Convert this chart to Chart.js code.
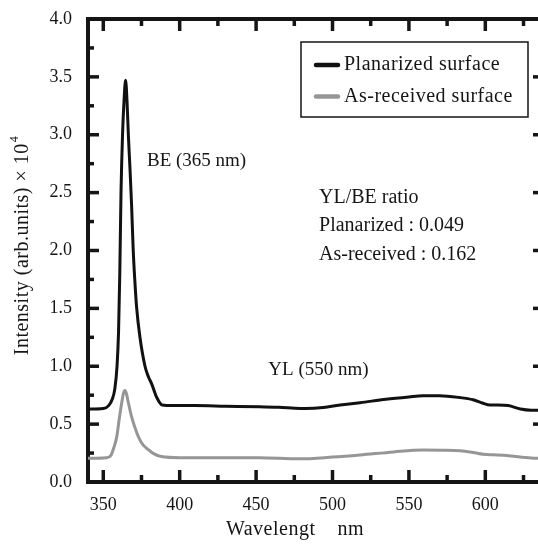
<!DOCTYPE html>
<html>
<head>
<meta charset="utf-8">
<script src="https://cdn.jsdelivr.net/npm/chart.js@4.4.1/dist/chart.umd.min.js"></script>
<style>
  html, body { margin: 0; padding: 0; background: #fff; overflow: hidden; }
  #wrap { position: absolute; left: 0; top: 0; width: 546px; height: 545px; }
</style>
</head>
<body>
<div id="wrap"><canvas id="pl-chart" width="546" height="545"></canvas></div>
<script>
// du lieu doc tu hinh
const planarX = [340, 350, 353.5, 356, 357.5, 359, 360, 360.8, 361.6, 362.6, 363.6, 364.6, 365.5, 366.4, 367.5, 368.5, 369.6, 370.6, 371.8, 374, 377.3, 379.5, 381.6, 385, 388.6, 395, 410, 430, 452, 465, 479, 490, 505, 518, 535, 550, 559, 570, 583, 592, 598.5, 603, 608, 615, 623, 630, 638];
const planarY = [0.63, 0.635, 0.66, 0.72, 0.8, 1.0, 1.3, 1.8, 2.5, 3.0, 3.3, 3.47, 3.3, 3.0, 2.7, 2.4, 2.0, 1.75, 1.51, 1.25, 1.0, 0.91, 0.85, 0.73, 0.665, 0.66, 0.66, 0.655, 0.65, 0.645, 0.636, 0.64, 0.665, 0.685, 0.715, 0.735, 0.745, 0.745, 0.73, 0.71, 0.68, 0.665, 0.665, 0.66, 0.63, 0.62, 0.62];

const asRecX = [340, 352, 355, 357, 358.8, 360.5, 362, 363.3, 364.2, 365.2, 366.5, 368.6, 371, 373, 376, 379.5, 383, 388, 400, 452, 478, 500, 518, 540, 559, 572, 583.5, 592, 598.5, 605, 612, 620, 630, 638];
const asRecY = [0.205, 0.21, 0.23, 0.3, 0.39, 0.55, 0.68, 0.77, 0.79, 0.76, 0.68, 0.56, 0.46, 0.39, 0.32, 0.28, 0.245, 0.22, 0.21, 0.21, 0.2, 0.215, 0.233, 0.26, 0.276, 0.275, 0.27, 0.255, 0.24, 0.235, 0.232, 0.22, 0.208, 0.205];

const xMajor = [350, 400, 450, 500, 550, 600];
const xMinor = [375, 425, 475, 525, 575, 625];
const yMajor = [0, 0.5, 1.0, 1.5, 2.0, 2.5, 3.0, 3.5, 4.0];
const yMinor = [0.25, 0.75, 1.25, 1.75, 2.25, 2.75, 3.25, 3.75];

const seriesLabels = ['Planarized surface', 'As-received surface'];
const ratioLines = ['YL/BE ratio', 'Planarized : 0.049', 'As-received : 0.162'];

const SERIF = "'Liberation Serif', 'DejaVu Serif', serif";
const INK = '#151515';

// ve khung, vach chia huong vao trong, chu thich va chu
const decorPlugin = {
    id: 'decor',
    afterDraw(chart) {
        const ctx = chart.ctx;
        const a = chart.chartArea;
        const xs = chart.scales.x;
        const ys = chart.scales.y;
        ctx.save();
        ctx.strokeStyle = INK;
        ctx.lineCap = 'butt';

        // khung tren va phai
        ctx.lineWidth = 4;
        ctx.beginPath();
        ctx.moveTo(a.left - 2, a.top);
        ctx.lineTo(a.right, a.top);
        ctx.lineTo(a.right, a.bottom);
        ctx.stroke();

        // vach chia
        ctx.lineWidth = 3.5;
        const tick = (x1, y1, x2, y2) => { ctx.beginPath(); ctx.moveTo(x1, y1); ctx.lineTo(x2, y2); ctx.stroke(); };
        xMajor.forEach(v => {
            const px = xs.getPixelForValue(v);
            tick(px, a.bottom, px, a.bottom - 12);
            tick(px, a.top, px, a.top + 12);
        });
        xMinor.forEach(v => {
            const px = xs.getPixelForValue(v);
            tick(px, a.bottom, px, a.bottom - 7);
            tick(px, a.top, px, a.top + 7);
        });
        yMajor.forEach(v => {
            const py = ys.getPixelForValue(v);
            tick(a.left, py, a.left + 11, py);
            tick(a.right, py, a.right - 11, py);
        });
        yMinor.forEach(v => {
            const py = ys.getPixelForValue(v);
            tick(a.left, py, a.left + 6, py);
            tick(a.right, py, a.right - 6, py);
        });

        // chu thich
        ctx.lineWidth = 1.5;
        ctx.strokeRect(301, 42, 227, 75);
        ctx.font = '20px ' + SERIF;
        ctx.letterSpacing = '0.5px';
        ctx.textAlign = 'left';
        ctx.textBaseline = 'middle';
        chart.data.datasets.forEach((ds, i) => {
            const yy = 65 + i * 31.5;
            ctx.strokeStyle = ds.borderColor;
            ctx.lineWidth = 4.5;
            ctx.lineCap = 'round';
            tick(316, yy, 338, yy);
            ctx.fillStyle = INK;
            ctx.fillText(ds.label, 344, yy);
        });

        // chu trong bieu do
        ctx.fillStyle = INK;
        ctx.font = '19px ' + SERIF;
        ctx.letterSpacing = '0px';
        ctx.fillText('BE (365 nm)', xs.getPixelForValue(378.6), ys.getPixelForValue(2.77));
        ctx.fillText('YL (550 nm)', xs.getPixelForValue(458), ys.getPixelForValue(0.97));
        ctx.font = '20px ' + SERIF;
        ratioLines.forEach((t, i) => {
            ctx.fillText(t, xs.getPixelForValue(491.2), ys.getPixelForValue(2.46 - i * 0.25));
        });

        // ten truc
        ctx.font = '20px ' + SERIF;
        ctx.letterSpacing = '0.5px';
        ctx.textAlign = 'center';
        ctx.fillText('Wavelengt    nm', 295, 530);

        ctx.translate(23, 246);
        ctx.rotate(-Math.PI / 2);
        const main = 'Intensity (arb.units) × 10';
        ctx.font = '20px ' + SERIF;
        const w1 = ctx.measureText(main).width;
        ctx.font = '12px ' + SERIF;
        const w2 = ctx.measureText('4').width;
        const start = -(w1 + w2) / 2;
        ctx.textAlign = 'left';
        ctx.font = '20px ' + SERIF;
        ctx.fillText(main, start, 0);
        ctx.font = '12px ' + SERIF;
        ctx.fillText('4', start + w1 + 1, -8);
        ctx.restore();
    }
};

const toPoints = (xs, ys) => xs.map((x, i) => ({ x: x, y: ys[i] }));

new Chart(document.getElementById('pl-chart').getContext('2d'), {
    type: 'line',
    data: {
        datasets: [{
            label: seriesLabels[0],
            data: toPoints(planarX, planarY),
            borderColor: '#111111',
            borderWidth: 3,
            pointRadius: 0,
            cubicInterpolationMode: 'monotone'
        }, {
            label: seriesLabels[1],
            data: toPoints(asRecX, asRecY),
            borderColor: '#969696',
            borderWidth: 3,
            pointRadius: 0,
            cubicInterpolationMode: 'monotone'
        }]
    },
    options: {
        responsive: false,
        animation: false,
        devicePixelRatio: 1,
        layout: { padding: { top: 19, right: 2, left: 0, bottom: 0 } },
        plugins: {
            legend: { display: false },
            tooltip: { enabled: false }
        },
        scales: {
            x: {
                type: 'linear',
                min: 340,
                max: 638.4,
                grid: { display: false },
                border: { display: true, width: 4, color: INK },
                afterBuildTicks: scale => { scale.ticks = xMajor.map(v => ({ value: v })); },
                afterFit: scale => { scale.height = 63; },
                ticks: {
                    padding: 4,
                    color: INK,
                    font: { family: SERIF, size: 18 },
                    maxRotation: 0,
                    callback: v => String(v)
                }
            },
            y: {
                type: 'linear',
                min: 0,
                max: 4,
                grid: { display: false },
                border: { display: true, width: 4, color: INK },
                afterBuildTicks: scale => { scale.ticks = yMajor.map(v => ({ value: v })); },
                afterFit: scale => { scale.width = 88; },
                ticks: {
                    padding: 8,
                    color: INK,
                    font: { family: SERIF, size: 18 },
                    callback: v => v.toFixed(1)
                }
            }
        }
    },
    plugins: [decorPlugin]
});
</script>
</body>
</html>
